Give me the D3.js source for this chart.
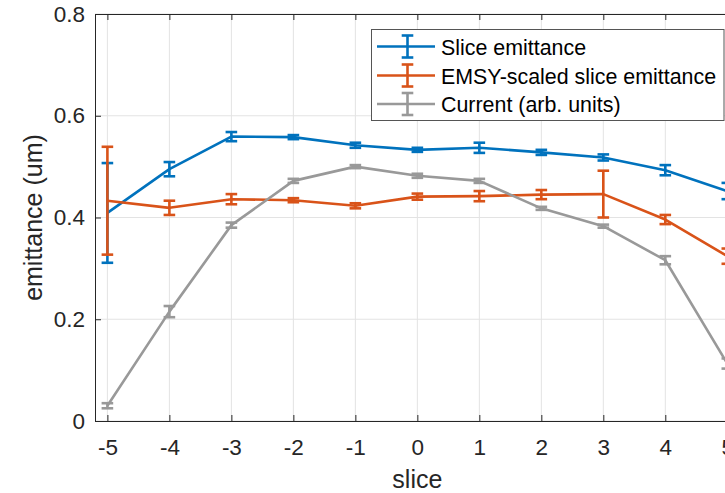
<!DOCTYPE html>
<html>
<head>
<meta charset="utf-8">
<script src="https://cdn.jsdelivr.net/npm/d3@7"></script>
<style>
  html, body { margin: 0; padding: 0; background: #fff; overflow: hidden; }
  svg { display: block; font-family: "Liberation Sans", Arial, Helvetica, sans-serif; }
</style>
</head>
<body>
<svg id="chart" width="725" height="493"></svg>
<script>
// Slice index along the bunch
const slices = [-5, -4, -3, -2, -1, 0, 1, 2, 3, 4, 5];

// Measured slice emittance (um) and its error
const sliceEmit    = [0.409, 0.495, 0.559, 0.558, 0.542, 0.533, 0.537, 0.528, 0.518, 0.493, 0.452];
const sliceEmitErr = [0.098, 0.014, 0.009, 0.004, 0.005, 0.004, 0.010, 0.005, 0.006, 0.010, 0.016];

// EMSY-scaled slice emittance (um) and its error
const emsyEmit    = [0.433, 0.419, 0.436, 0.434, 0.423, 0.441, 0.442, 0.445, 0.446, 0.396, 0.324];
const emsyEmitErr = [0.106, 0.014, 0.010, 0.004, 0.005, 0.006, 0.010, 0.009, 0.046, 0.009, 0.015];

// Slice current, arbitrary units
const current    = [0.030, 0.215, 0.385, 0.472, 0.500, 0.482, 0.472, 0.418, 0.383, 0.316, 0.113];
const currentErr = [0.005, 0.011, 0.005, 0.004, 0.003, 0.004, 0.004, 0.003, 0.003, 0.008, 0.010];

const xTicks = [-5, -4, -3, -2, -1, 0, 1, 2, 3, 4, 5];
const yTicks = [0, 0.2, 0.4, 0.6, 0.8];
const seriesNames = ["Slice emittance", "EMSY-scaled slice emittance", "Current (arb. units)"];
const seriesColors = ["#0072BD", "#D95319", "#999999"];

const series = [
  { name: seriesNames[0], color: seriesColors[0], values: sliceEmit, errors: sliceEmitErr },
  { name: seriesNames[1], color: seriesColors[1], values: emsyEmit,  errors: emsyEmitErr },
  { name: seriesNames[2], color: seriesColors[2], values: current,   errors: currentErr }
];

const svg = d3.select("#chart");
const axisColor = "#262626";

// Plot box (the right side runs past the visible frame)
const plotLeft = 95, plotTop = 14, plotBottom = 421, plotRight = 739.7;

const x = d3.scaleLinear().domain([-5.2, 5.2]).range([plotLeft, plotRight]);
const y = d3.scaleLinear().domain([0, 0.8]).range([plotBottom, plotTop]);

// Grid
const grid = svg.append("g");
grid.selectAll("line.gx").data(xTicks).join("line")
  .attr("x1", d => x(d)).attr("x2", d => x(d))
  .attr("y1", plotTop).attr("y2", plotBottom)
  .attr("stroke", "#e3e3e3").attr("stroke-width", 1);
grid.selectAll("line.gy").data(yTicks).join("line")
  .attr("x1", plotLeft).attr("x2", plotRight)
  .attr("y1", d => y(d)).attr("y2", d => y(d))
  .attr("stroke", "#e3e3e3").attr("stroke-width", 1);

// Axes with inward ticks
const xAxis = d3.axisBottom(x).tickValues(xTicks).tickSizeInner(-6).tickSizeOuter(0)
  .tickFormat(d3.format("d")).tickPadding(18);
const yAxis = d3.axisLeft(y).tickValues(yTicks).tickSizeInner(-6).tickSizeOuter(0)
  .tickFormat(d => d === 0 ? "0" : d3.format(".1f")(d)).tickPadding(10);
const xAxisTop = d3.axisTop(x).tickValues(xTicks).tickSizeInner(-6).tickSizeOuter(0).tickFormat("");

const gx = svg.append("g").attr("transform", `translate(0,${plotBottom})`).call(xAxis);
const gy = svg.append("g").attr("transform", `translate(${plotLeft},0)`).call(yAxis);
const gt = svg.append("g").attr("transform", `translate(0,${plotTop})`).call(xAxisTop);

[gx, gy, gt].forEach(g => {
  g.select(".domain").attr("stroke", axisColor).attr("stroke-width", 1);
  g.selectAll(".tick line").attr("stroke", axisColor).attr("stroke-width", 1);
  g.selectAll(".tick text").attr("fill", axisColor)
    .style("font-size", "22.5px").style("font-family", "Liberation Sans, Arial, sans-serif");
});
gx.selectAll(".tick text").text(d => d < 0 ? "-" + Math.abs(d) : String(d));

// Axis titles
svg.append("text")
  .attr("x", x(0)).attr("y", 488)
  .attr("text-anchor", "middle").attr("fill", axisColor)
  .style("font-size", "25px").text("slice");
svg.append("text")
  .attr("transform", `translate(42,${(plotTop + plotBottom) / 2}) rotate(-90)`)
  .attr("text-anchor", "middle").attr("fill", axisColor)
  .style("font-size", "25px").text("emittance (um)");

// Series: line + error bars
const line = d3.line().x((d, i) => x(slices[i])).y(d => y(d));
const capHalf = 5.8;

series.forEach(s => {
  const g = svg.append("g");
  g.append("path").datum(s.values)
    .attr("d", line).attr("fill", "none")
    .attr("stroke", s.color).attr("stroke-width", 2.6).attr("stroke-linejoin", "round");

  const pts = s.values.map((v, i) => ({ xv: slices[i], v, e: s.errors[i] }));
  const eb = g.selectAll("g.eb").data(pts).join("g");
  eb.append("line")
    .attr("x1", d => x(d.xv)).attr("x2", d => x(d.xv))
    .attr("y1", d => y(d.v - d.e)).attr("y2", d => y(d.v + d.e))
    .attr("stroke", s.color).attr("stroke-width", 2.6);
  eb.append("line")
    .attr("x1", d => x(d.xv) - capHalf).attr("x2", d => x(d.xv) + capHalf)
    .attr("y1", d => y(d.v + d.e)).attr("y2", d => y(d.v + d.e))
    .attr("stroke", s.color).attr("stroke-width", 2.6);
  eb.append("line")
    .attr("x1", d => x(d.xv) - capHalf).attr("x2", d => x(d.xv) + capHalf)
    .attr("y1", d => y(d.v - d.e)).attr("y2", d => y(d.v - d.e))
    .attr("stroke", s.color).attr("stroke-width", 2.6);
});

// Legend
const legend = svg.append("g");
legend.append("rect")
  .attr("x", 371.5).attr("y", 29.5).attr("width", 352.5).attr("height", 91)
  .attr("fill", "#fff").attr("stroke", "#555").attr("stroke-width", 1);

const rowY = [46.5, 75.5, 104];
series.forEach((s, i) => {
  const cy = rowY[i];
  legend.append("line").attr("x1", 377).attr("x2", 435).attr("y1", cy).attr("y2", cy)
    .attr("stroke", s.color).attr("stroke-width", 2.6);
  legend.append("line").attr("x1", 407.5).attr("x2", 407.5).attr("y1", cy - 11).attr("y2", cy + 11)
    .attr("stroke", s.color).attr("stroke-width", 2.6);
  legend.append("line").attr("x1", 401.7).attr("x2", 413.3).attr("y1", cy - 11).attr("y2", cy - 11)
    .attr("stroke", s.color).attr("stroke-width", 2.6);
  legend.append("line").attr("x1", 401.7).attr("x2", 413.3).attr("y1", cy + 11).attr("y2", cy + 11)
    .attr("stroke", s.color).attr("stroke-width", 2.6);
  legend.append("text").attr("x", 441).attr("y", cy + 8.3)
    .attr("fill", "#000").style("font-size", "21.4px").text(s.name);
});
</script>
</body>
</html>
